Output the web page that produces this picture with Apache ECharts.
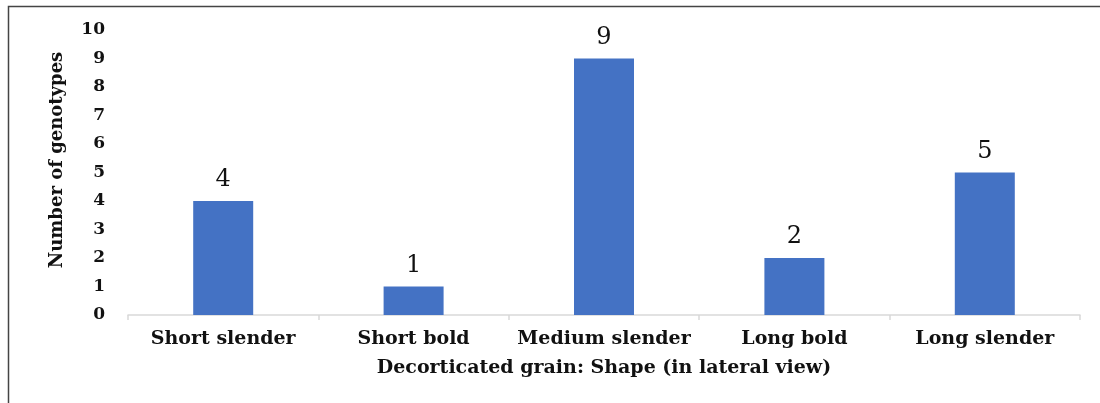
<!DOCTYPE html>
<html><head><meta charset="utf-8">
<script src="https://cdn.jsdelivr.net/npm/echarts@6/dist/echarts.min.js"></script>
<style>html,body{margin:0;padding:0;background:#fff}#c{width:1100px;height:403px}</style>
</head><body><div id="c"></div>
<script>
const categories = ['Short slender','Short bold','Medium slender','Long bold','Long slender'];
const values = [4, 1, 9, 2, 5];
const yTicks = [0,1,2,3,4,5,6,7,8,9,10];
const xTitle = 'Decorticated grain: Shape (in lateral view)';
const yTitle = 'Number of genotypes';
const serif = '"DejaVu Serif","Liberation Serif",serif';
const chart = echarts.init(document.getElementById('c'));
chart.setOption({
  animation: false,
  graphic: [
    {type:'rect', shape:{x:8.5,y:6.5,width:1200,height:500}, style:{fill:'none',stroke:'#444',lineWidth:1.5}, silent:true},
    {type:'text', x:57, y:160, rotation:Math.PI/2, style:{text:yTitle, fill:'#111', font:'bold 18px "DejaVu Serif",serif', textAlign:'center', textVerticalAlign:'middle'}, silent:true}
  ],
  grid: {left:128, right:20, top:30, bottom:88},
  xAxis: {
    type:'category', data:categories,
    axisLine:{lineStyle:{color:'#d9d9d9', width:1.5}},
    axisTick:{show:true, length:5, lineStyle:{color:'#d9d9d9', width:1.5}},
    axisLabel:{color:'#111', fontFamily:serif, fontWeight:'bold', fontSize:19, margin:15, interval:0},
    name:xTitle, nameLocation:'middle', nameGap:44,
    nameTextStyle:{color:'#111', fontFamily:serif, fontWeight:'bold', fontSize:19}
  },
  yAxis: {
    type:'value', min:0, max:10, interval:1,
    axisLine:{show:false}, axisTick:{show:false}, splitLine:{show:false},
    axisLabel:{color:'#111', fontFamily:serif, fontWeight:'bold', fontSize:17, margin:23,
      formatter: v => yTicks.includes(v) ? String(v) : ''}
  },
  series: [{
    type:'bar', data:values, barWidth:60,
    itemStyle:{color:'#4472C4'},
    label:{show:true, position:'top', distance:9, color:'#111', fontFamily:serif, fontSize:24}
  }]
});
</script></body></html>
